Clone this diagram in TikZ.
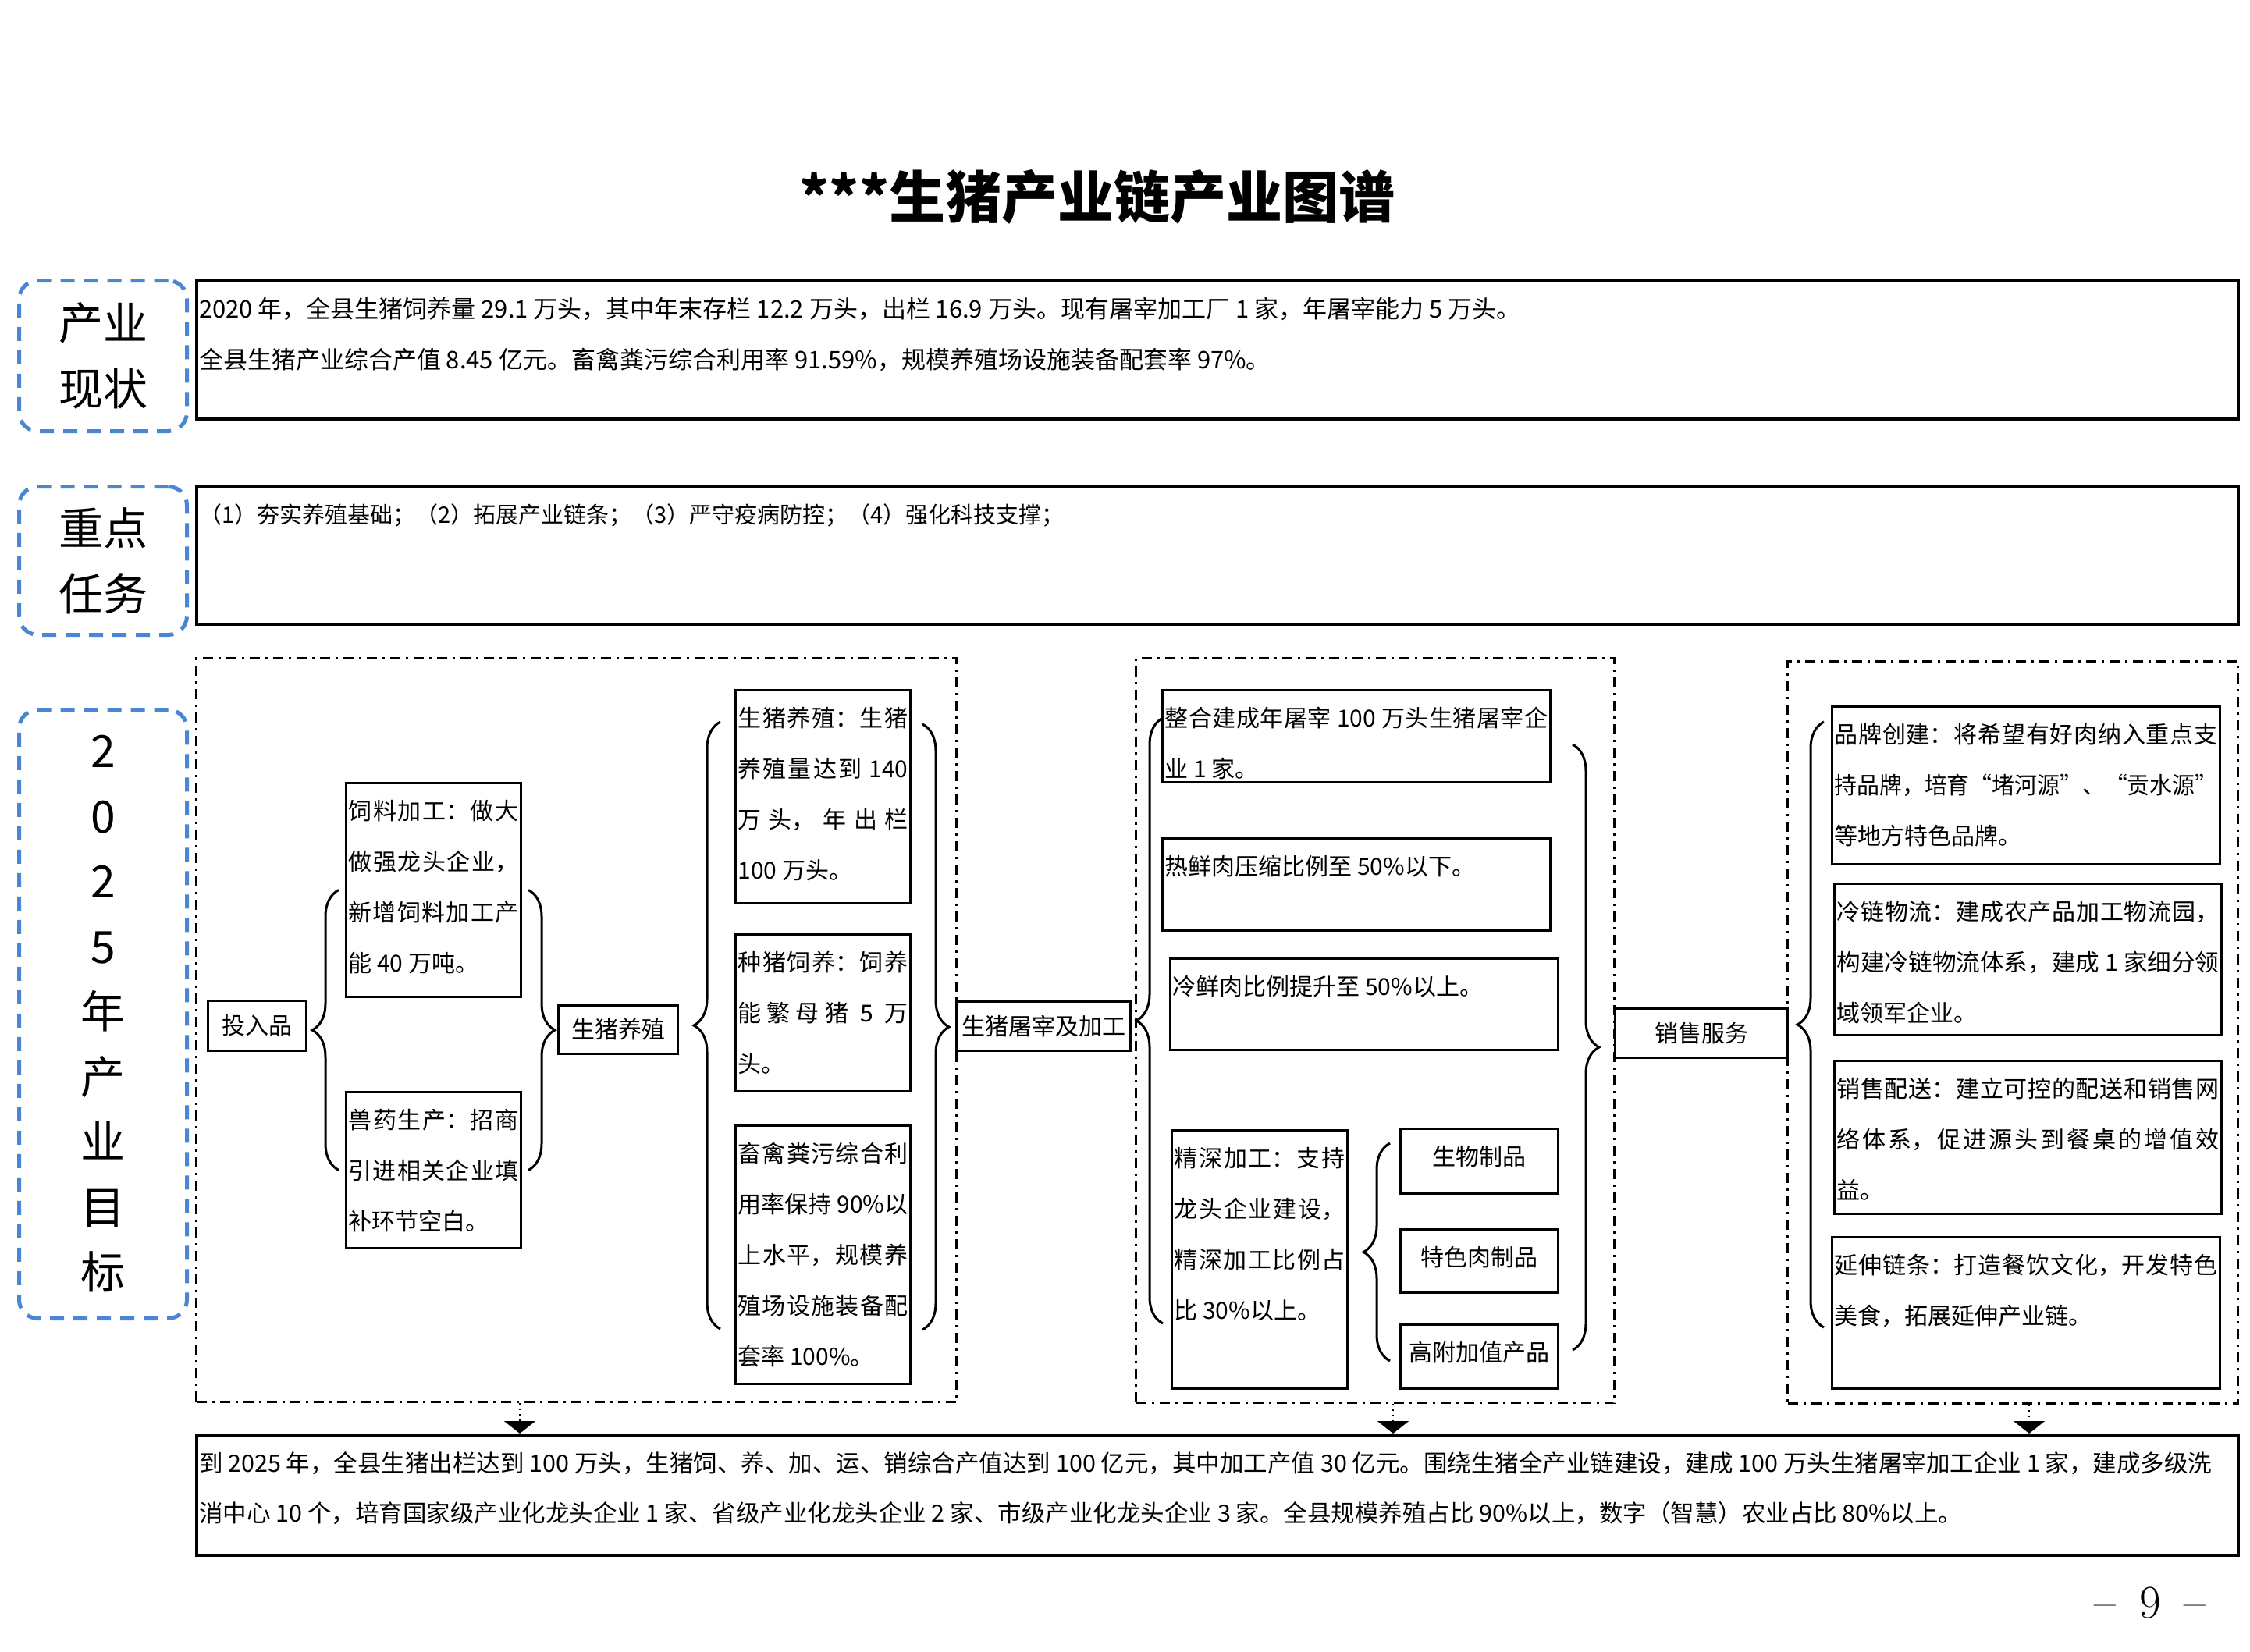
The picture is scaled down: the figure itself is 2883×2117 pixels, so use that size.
\documentclass[tikz,border=0pt]{standalone}
\usepackage{fontspec}
\usepackage{graphicx}
\newfontfamily\cjk{Noto Sans CJK SC}
\XeTeXlinebreaklocale "zh"
\XeTeXlinebreakskip=0pt plus 3pt minus 1.2pt
\usetikzlibrary{positioning,decorations.pathreplacing,arrows.meta}
\definecolor{labblue}{RGB}{74,134,212}
\newcommand\cellpar[3]{\parbox[c][#2pt][t]{\dimexpr#1pt-6pt\relax}{\emergencystretch=20pt\rule{0pt}{47pt}#3}}

\begin{document}
\begin{tikzpicture}[x=1pt, y=-1pt,
	lbl/.style={draw=labblue, line width=5pt, dash pattern=on 18pt off 12pt, rounded corners=24pt, anchor=north west, inner sep=0pt, align=center, font=\cjk\fontsize{57pt}{84pt}\selectfont},
	sbox/.style={draw, line width=4pt, anchor=north west, inner xsep=3pt, inner ysep=0pt, font=\cjk\fontsize{31pt}{65pt}\selectfont},
	cell/.style={draw, line width=3pt, anchor=north west, inner xsep=3pt, inner ysep=0pt, font=\cjk\fontsize{30pt}{65pt}\selectfont},
	tag/.style={draw, line width=3pt, anchor=north west, inner sep=0pt, font=\cjk\fontsize{30pt}{36pt}\selectfont},
	frame/.style={draw, line width=3pt, dash pattern=on 13pt off 7pt on 3pt off 7pt, anchor=north west, inner sep=0pt},
	brc/.style={decorate, decoration={brace, amplitude=34pt}, line width=3pt},
	down/.style={line width=2pt, dash pattern=on 2pt off 5pt, -{Triangle[width=40pt, length=16pt]}}]
		\useasboundingbox (0,0) rectangle (2883,2117);

		\node [font=\cjk\bfseries\fontsize{72pt}{80pt}\selectfont] (title) at (1406,252) {***生猪产业链产业图谱};

		\node [lbl, minimum width=215pt, minimum height=193pt] (now) at (22,357) {产业\\现状};
		\node [lbl, minimum width=215pt, minimum height=190pt] (task) at (22,621) {重点\\任务};
		\node [lbl, minimum width=215pt, minimum height=780pt, font=\cjk\fontsize{57pt}{83.5pt}\selectfont] (aim) at (22,907) {2\\0\\2\\5\\年\\产\\业\\目\\标};

		\node [sbox] (nowtxt) at (250,358) {\cellpar{2616}{177}{\mbox{2020 年，全县生猪饲养量 29.1 万头，其中年末存栏 12.2 万头，出栏 16.9 万头。现有屠宰加工厂 1 家，年屠宰能力 5 万头。}\\\mbox{全县生猪产业综合产值 8.45 亿元。畜禽粪污综合利用率 91.59\%，规模养殖场设施装备配套率 97\%。}}};
		\node [sbox, font=\cjk\fontsize{29pt}{65pt}\selectfont] (tasktxt) at (250,621) {\cellpar{2616}{177}{\mbox{（1）夯实养殖基础；（2）拓展产业链条；（3）严守疫病防控；（4）强化科技支撑；}}};

		\node [frame, minimum width=974pt, minimum height=953pt] (fL) at (250,842) {};
		\node [frame, minimum width=613pt, minimum height=954pt] (fM) at (1454,842) {};
		\node [frame, minimum width=577pt, minimum height=951pt] (fR) at (2289,846) {};

		\node [tag, minimum width=126pt, minimum height=64pt] (inp) at (265,1281) {投入品};
		\node [cell] (feed) at (442,1002) {\cellpar{224}{274}{饲料加工：做大做强龙头企业，新增饲料加工产能 40 万吨。}};
		\node [cell] (vet) at (442,1398) {\cellpar{224}{200}{兽药生产：招商引进相关企业填补环节空白。}};
		\node [tag, minimum width=153pt, minimum height=62pt] (farm) at (714,1287) {生猪养殖};
		\node [cell] (fa) at (941,883) {\cellpar{224}{273}{生猪养殖：生猪养殖量达到 140 万头，年出栏 100 万头。}};
		\node [cell] (fb) at (941,1196) {\cellpar{224}{201}{种猪饲养：饲养能繁母猪 5 万头。}};
		\node [cell] (fc) at (941,1441) {\cellpar{224}{331}{畜禽粪污综合利用率保持 90\%以上水平，规模养殖场设施装备配套率 100\%。}};
		\node [tag, minimum width=223pt, minimum height=63pt] (proc) at (1224,1282) {生猪屠宰及加工};

		\node [cell] (m1) at (1488,883) {\cellpar{497}{118}{整合建成年屠宰 100 万头生猪屠宰企\linebreak 业 1 家。}};
		\node [cell] (m2) at (1488,1073) {\cellpar{497}{118}{热鲜肉压缩比例至 50\%以下。}};
		\node [cell] (m3) at (1498,1227) {\cellpar{497}{117}{冷鲜肉比例提升至 50\%以上。}};
		\node [cell] (m4) at (1500,1447) {\cellpar{225}{331}{精深加工：支持龙头企业建设，精深加工比例占比 30\%以上。}};
		\node [cell] (p1) at (1793,1445) {\cellpar{202}{83}{\centering 生物制品}};
		\node [cell] (p2) at (1793,1574) {\cellpar{202}{81}{\centering 特色肉制品}};
		\node [cell] (p3) at (1793,1696) {\cellpar{202}{82}{\centering 高附加值产品}};
		\node [tag, minimum width=221pt, minimum height=63pt] (sale) at (2068,1291) {销售服务};

		\node [cell] (r1) at (2346,904) {\cellpar{497}{202}{品牌创建：将希望有好肉纳入重点支\linebreak\resizebox{\linewidth}{\height}{持品牌，培育“堵河源”、“贡水源”}\linebreak 等地方特色品牌。}};
		\node [cell] (r2) at (2349,1131) {\cellpar{496}{194}{冷链物流：建成农产品加工物流园，\linebreak\resizebox{\linewidth}{\height}{构建冷链物流体系，建成 1 家细分领}\linebreak 域领军企业。}};
		\node [cell] (r3) at (2349,1358) {\cellpar{496}{196}{销售配送：建立可控的配送和销售网\linebreak 络体系，促进源头到餐桌的增值效\linebreak 益。}};
		\node [cell] (r4) at (2346,1584) {\cellpar{497}{194}{延伸链条：打造餐饮文化，开发特色\linebreak 美食，拓展延伸产业链。}};

		\node [sbox, font=\cjk\fontsize{30.5pt}{64pt}\selectfont] (goal) at (250,1837) {\cellpar{2616}{154}{\mbox{到 2025 年，全县生猪出栏达到 100 万头，生猪饲、养、加、运、销综合产值达到 100 亿元，其中加工产值 30 亿元。围绕生猪全产业链建设，建成 100 万头生猪屠宰加工企业 1 家，建成多级洗}\\\mbox{消中心 10 个，培育国家级产业化龙头企业 1 家、省级产业化龙头企业 2 家、市级产业化龙头企业 3 家。全县规模养殖占比 90\%以上，数字（智慧）农业占比 80\%以上。}}};

		\node [font=\fontsize{60pt}{60pt}\selectfont] (pageno) at (2755,2054) {--\hspace{30pt}9\hspace{30pt}--};

		\draw[brc] ([xshift=-8pt]vet.west) -- ([xshift=-8pt]feed.west);
		\draw[brc] ([xshift=8pt]feed.east) -- ([xshift=8pt]vet.east);
		\draw[brc] (923,1703) -- (923,925);
		\draw[brc] (1182,928) -- (1182,1704);
		\draw[brc] (1490,1696) -- (1490,920);
		\draw[brc] (1781,1744) -- (1781,1465);
		\draw[brc] (2015,954) -- (2015,1730);
		\draw[brc] (2337,1701) -- (2337,925);

		\coordinate (a1) at (666,0);
		\coordinate (a2) at (1785,0);
		\coordinate (a3) at (2600,0);
		\draw[down] (fL.south -| a1) -- (goal.north -| a1);
		\draw[down] (fM.south -| a2) -- (goal.north -| a2);
		\draw[down] (fR.south -| a3) -- (goal.north -| a3);
	\end{tikzpicture}
\end{document}
